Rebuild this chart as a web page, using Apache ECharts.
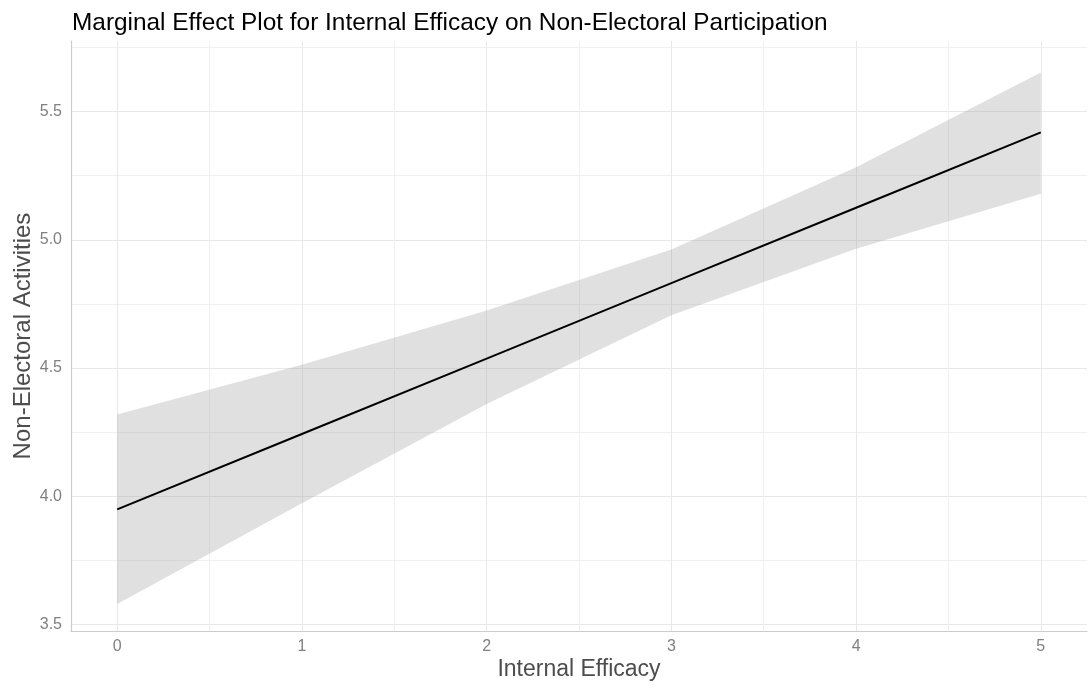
<!DOCTYPE html>
<html>
<head>
<meta charset="utf-8">
<title>Marginal Effect Plot</title>
<script src="https://cdn.jsdelivr.net/npm/echarts@6/dist/echarts.min.js"></script>
<style>
  html, body { margin: 0; padding: 0; background: #fff; }
  #chart { width: 1089px; height: 688px; }
</style>
</head>
<body>
<div id="chart"></div>
<script>
// internal efficacy values
var efficacy = [0, 1, 2, 3, 4, 5];
// predicted non-electoral activities + 95% interval
var fitted = [3.949, 4.243, 4.537, 4.831, 5.125, 5.419];
var lower  = [3.580, 3.973, 4.360, 4.706, 4.965, 5.180];
var upper  = [4.319, 4.513, 4.724, 4.962, 5.283, 5.652];

var MAJOR = '#e8e8e8';
var MINOR = '#f0f0f0';
var NONE = 'rgba(0,0,0,0)';
var FONT = 'Liberation Sans';

var chart = echarts.init(document.getElementById('chart'));

// y split line colours: ticks every 0.025 from 3.475, major every 0.5, minor at .25
var yColors = [];
for (var i = 0; i < 20; i++) {
  yColors.push(i === 1 ? MAJOR : (i === 11 ? MINOR : NONE));
}

var bandRows = efficacy.map(function (x, i) { return [x, lower[i], upper[i]]; });

// ribbon drawn as one polygon: upper edge left->right, lower edge back
function renderBand(params, api) {
  if (params.dataIndex !== 0) return;
  var pts = [];
  for (var i = 0; i < bandRows.length; i++) {
    pts.push(api.coord([bandRows[i][0], bandRows[i][2]]));
  }
  for (var j = bandRows.length - 1; j >= 0; j--) {
    pts.push(api.coord([bandRows[j][0], bandRows[j][1]]));
  }
  return {
    type: 'polygon',
    shape: { points: pts },
    style: { fill: 'rgba(153,153,153,0.3)' },
    silent: true
  };
}

var option = {
  backgroundColor: '#ffffff',
  animation: false,
  title: {
    text: 'Marginal Effect Plot for Internal Efficacy on Non-Electoral Participation',
    left: 72,
    top: 11,
    padding: 0,
    textStyle: {
      fontFamily: FONT,
      fontSize: 24.4,
      fontWeight: 'normal',
      color: '#000'
    }
  },
  grid: {
    left: 71,
    right: 2,
    top: 41,
    bottom: 57,
    outerBoundsMode: 'none'
  },
  xAxis: {
    type: 'value',
    min: -0.25,
    max: 5.25,
    interval: 0.25,
    name: 'Internal Efficacy',
    nameLocation: 'middle',
    nameGap: 27,
    nameMoveOverlap: false,
    nameTextStyle: {
      fontFamily: FONT,
      fontSize: 23,
      color: '#4d4d4d'
    },
    axisLine: { show: true, onZero: false, lineStyle: { color: '#cccccc', width: 1.2 } },
    axisTick: { show: false },
    axisLabel: {
      margin: 8,
      fontFamily: FONT,
      fontSize: 16,
      color: '#808080',
      formatter: function (v) {
        return Math.abs(v - Math.round(v)) < 1e-6 ? String(Math.round(v)) : '';
      }
    },
    splitLine: {
      show: true,
      lineStyle: { color: [NONE, MAJOR, NONE, MINOR], width: 1 }
    }
  },
  yAxis: {
    type: 'value',
    min: 3.475,
    max: 5.775,
    interval: 0.025,
    name: 'Non-Electoral Activities',
    nameLocation: 'middle',
    nameGap: 36,
    nameMoveOverlap: false,
    nameTextStyle: {
      fontFamily: FONT,
      fontSize: 24,
      color: '#4d4d4d'
    },
    axisLine: { show: true, onZero: false, lineStyle: { color: '#cccccc', width: 1.2 } },
    axisTick: { show: false },
    axisLabel: {
      margin: 9,
      fontFamily: FONT,
      fontSize: 16,
      color: '#808080',
      formatter: function (v) {
        var d = v * 2;
        return Math.abs(d - Math.round(d)) < 1e-6 ? v.toFixed(1) : '';
      }
    },
    splitLine: {
      show: true,
      lineStyle: { color: yColors, width: 1 }
    }
  },
  series: [
    {
      name: 'band',
      type: 'custom',
      data: bandRows,
      encode: { x: 0, y: [1, 2] },
      renderItem: renderBand,
      silent: true,
      z: 2
    },
    {
      name: 'fit',
      type: 'line',
      data: efficacy.map(function (x, i) { return [x, fitted[i]]; }),
      symbol: 'none',
      lineStyle: { color: '#000', width: 2 },
      z: 5
    }
  ]
};

chart.setOption(option);
</script>
</body>
</html>
